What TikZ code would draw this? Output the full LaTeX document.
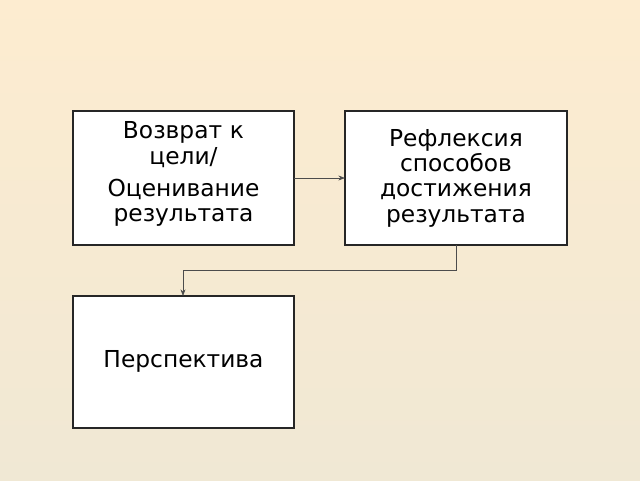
\documentclass[tikz,border=0pt]{standalone}
\usepackage{fontspec}
\usetikzlibrary{arrows.meta}
\setmainfont{DejaVu Sans}
\definecolor{bgtop}{RGB}{253,236,208}
\definecolor{bgbot}{RGB}{240,232,212}
\tikzset{
  stepbox/.style={draw=black!85, line width=1.2pt, fill=white},
  boxtext/.style={align=center, font=\fontsize{17.5}{19}\selectfont, text width=160pt},
  link/.style={draw=black!70, line width=0.5pt}
}
\begin{document}
\begin{tikzpicture}[x=0.75pt,y=0.75pt,yscale=-1,xscale=1]
        %background
        \shade [top color=bgtop, bottom color=bgbot] (0,0) rectangle (640,480);
        \useasboundingbox (0,0) rectangle (640,480);

        %Boxes
        \draw [stepbox] (73,111) rectangle (294,245);
        \draw [stepbox] (345,111) rectangle (567,245);
        \draw [stepbox] (73,296) rectangle (294,428);
        \coordinate (goalR) at (294,178);
        \coordinate (reflL) at (345,178);
        \coordinate (reflB) at (456,245);
        \coordinate (perspT) at (183,296);

        %Texts
        \node [boxtext, anchor=north] (goal) at (183.5,117) {Возврат к\\цели/\\[5pt]Оценивание\\результата};
        \node [boxtext] (refl) at (456,178) {Рефлексия\\способов\\достижения\\результата};
        \node [boxtext] (persp) at (183.5,361) {Перспектива};

        %Connectors
        \draw [link, -{Stealth[length=5pt]}] (goalR) -- (reflL);
        \draw [link, -{Stealth[length=5pt]}] (reflB) -- (456,270) -- (183,270) -- (perspT);
\end{tikzpicture}
\end{document}
